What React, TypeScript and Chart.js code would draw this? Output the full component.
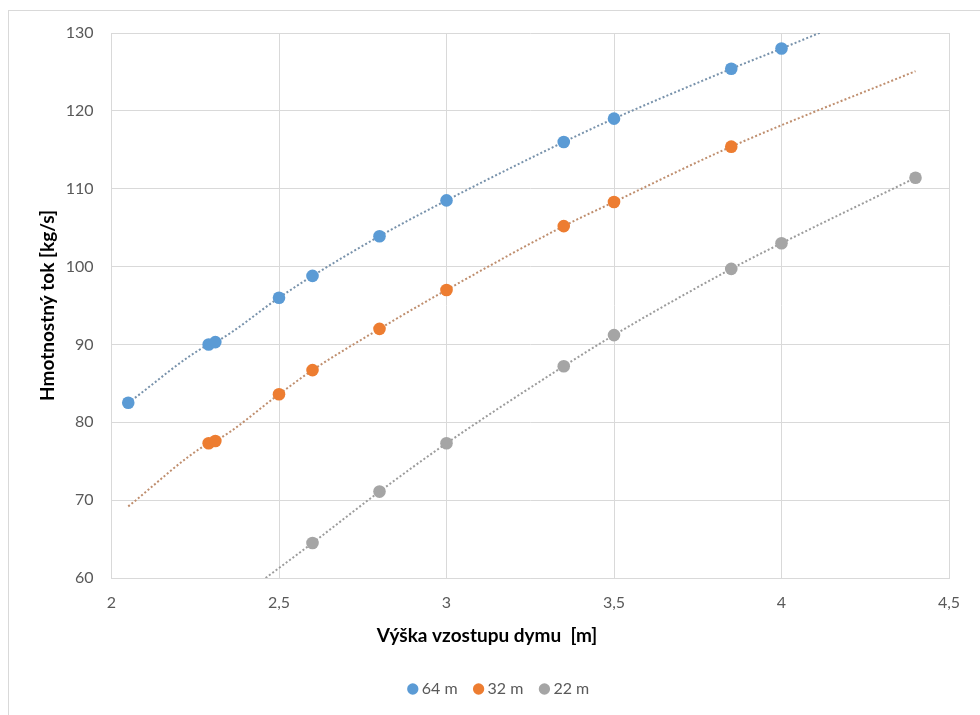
import React, { useEffect, useRef } from 'react';
import { Chart, registerables } from 'chart.js';

Chart.register(...registerables);

const FONT = 'Lato, "Open Sans", "DejaVu Sans", sans-serif';

const seriesNames = ['64 m', '32 m', '22 m'];
const seriesColors = ['#5B9BD5', '#ED7D31', '#A5A5A5'];
const trendColors = ['#7892ab', '#bf8e6e', '#9c9c9c'];

// measured points (x = Výška vzostupu dymu [m], y = Hmotnostný tok [kg/s])
const x64 = [2.05, 2.29, 2.31, 2.5, 2.6, 2.8, 3.0, 3.35, 3.5, 3.85, 4.0];
const y64 = [82.5, 90.0, 90.3, 96.0, 98.8, 103.9, 108.5, 116.0, 119.0, 125.4, 128.0];
const x32 = [2.29, 2.31, 2.5, 2.6, 2.8, 3.0, 3.35, 3.5, 3.85];
const y32 = [77.3, 77.6, 83.6, 86.7, 92.0, 97.0, 105.2, 108.3, 115.4];
const x22 = [2.6, 2.8, 3.0, 3.35, 3.5, 3.85, 4.0, 4.4];
const y22 = [64.5, 71.1, 77.3, 87.2, 91.2, 99.7, 103.0, 111.4];

// trendline end points
const trend64Start = [2.05, 82.5];
const trend64End = [4.13, 130.3];
const trend32Start = [2.05, 69.2];
const trend32End = [4.4, 125.1];
const trend22Start = [2.46, 60.0];
const trend22End = [4.4, 111.4];

const xTickLabels = ['2', '2,5', '3', '3,5', '4', '4,5'];
const yTitle = 'Hmotnostný tok [kg/s]';
const xTitle = 'Výška vzostupu dymu  [m]';

const toPts = (xs: number[], ys: number[]) => xs.map((x, i) => ({ x, y: ys[i] }));
const trendPts = (s: number[], xs: number[], ys: number[], e: number[]) => {
  const pts = [{ x: s[0], y: s[1] }, ...toPts(xs, ys), { x: e[0], y: e[1] }];
  return pts.filter((p, i) => i === 0 || p.x > pts[i - 1].x);
};

export default function App() {
  const ref = useRef<HTMLCanvasElement | null>(null);

  useEffect(() => {
    if (!ref.current) return;
    const pointSets = [toPts(x64, y64), toPts(x32, y32), toPts(x22, y22)];
    const trendSets = [
      trendPts(trend64Start, x64, y64, trend64End),
      trendPts(trend32Start, x32, y32, trend32End),
      trendPts(trend22Start, x22, y22, trend22End),
    ];

    const datasets: any[] = [];
    pointSets.forEach((d, i) => {
      datasets.push({
        label: seriesNames[i],
        data: d,
        showLine: false,
        backgroundColor: seriesColors[i],
        borderColor: seriesColors[i],
        borderWidth: 0,
        pointRadius: 6.3,
        pointHoverRadius: 6.3,
        pointStyle: 'circle',
      });
    });
    trendSets.forEach((d, i) => {
      datasets.push({
        label: 'trend ' + seriesNames[i],
        data: d,
        showLine: true,
        borderColor: trendColors[i],
        backgroundColor: trendColors[i],
        borderWidth: 2,
        borderDash: [2, 2.2],
        borderCapStyle: 'butt',
        pointRadius: 0,
        pointHoverRadius: 0,
        cubicInterpolationMode: 'monotone',
        fill: false,
      });
    });

    const framePlugin = {
      id: 'frame',
      beforeDraw(chart: any) {
        const ctx = chart.ctx;
        ctx.save();
        ctx.fillStyle = '#ffffff';
        ctx.fillRect(0, 0, chart.width, chart.height);
        ctx.strokeStyle = '#d9d9d9';
        ctx.lineWidth = 1;
        ctx.strokeRect(8.5, 10.5, 2000, 2000);
        ctx.restore();
      },
      afterDraw(chart: any) {
        const ctx = chart.ctx;
        ctx.save();
        ctx.font = `bold 19px ${FONT}`;
        ctx.fillStyle = '#000000';
        ctx.textAlign = 'center';
        ctx.textBaseline = 'middle';
        ctx.fillText(xTitle, 487, 636);
        ctx.restore();
      },
    };

    const chart = new Chart(ref.current, {
      type: 'scatter',
      data: { datasets },
      plugins: [framePlugin],
      options: {
        responsive: false,
        animation: false,
        layout: { padding: { left: 38, right: 17, top: 33, bottom: 8 } },
        plugins: {
          tooltip: { enabled: false },
          legend: {
            position: 'bottom',
            labels: {
              usePointStyle: true,
              pointStyle: 'circle',
              boxWidth: 2,
              boxHeight: 8,
              padding: 20,
              color: '#595959',
              font: { family: FONT, size: 16 },
              filter: (item: any) => item.datasetIndex < 3,
            },
          },
        },
        scales: {
          x: {
            type: 'linear',
            min: 2,
            max: 4.5,
            ticks: {
              stepSize: 0.5,
              padding: 15,
              color: '#595959',
              font: { family: FONT, size: 16 },
              callback: (_v: any, i: number) => xTickLabels[i] ?? '',
            },
            grid: { color: '#d9d9d9', drawTicks: false, lineWidth: 1 },
            border: { color: '#d9d9d9' },
            afterFit: (s: any) => {
              s.height = 83;
              s.paddingRight = 31;
            },
          },
          y: {
            type: 'linear',
            min: 60,
            max: 130,
            ticks: {
              stepSize: 10,
              padding: 18,
              color: '#595959',
              font: { family: FONT, size: 16 },
            },
            grid: { color: '#d9d9d9', drawTicks: false, lineWidth: 1 },
            border: { color: '#d9d9d9' },
            title: {
              display: true,
              text: yTitle,
              color: '#000000',
              padding: 0,
              font: { family: FONT, size: 19, weight: 'bold', lineHeight: 1 },
            },
            afterFit: (s: any) => {
              s.width = 73.5;
            },
          },
        },
      } as any,
    });
    return () => chart.destroy();
  }, []);

  return (
    <div style={{ position: 'absolute', left: 0, top: 0, width: 980, height: 715, background: '#fff' }}>
      <canvas ref={ref} width={980} height={715} style={{ display: 'block' }} />
    </div>
  );
}
